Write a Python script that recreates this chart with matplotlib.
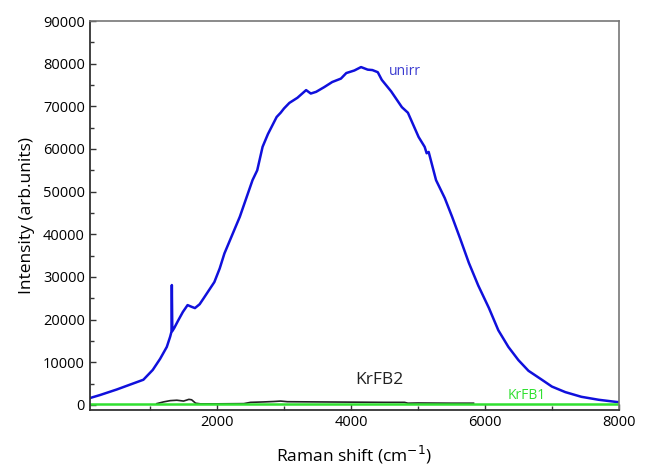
import matplotlib
matplotlib.use("Agg")
import matplotlib.pyplot as plt
from matplotlib.ticker import MultipleLocator

plt.rcParams['font.family'] = ['Open Sans', 'DejaVu Sans']

# unirr spectrum (blue)
unirr_x = [100, 250, 500, 900, 1040, 1150, 1250, 1300, 1320, 1325, 1332, 1360, 1420,
           1490, 1560, 1620, 1670, 1740, 1800, 1960, 2040, 2110, 2340, 2530, 2600,
           2680, 2760, 2890, 2950, 3000, 3080, 3200, 3330, 3400, 3480, 3600, 3720,
           3850, 3930, 4050, 4150, 4250, 4320, 4400, 4460, 4600, 4760, 4850, 5010,
           5100, 5130, 5160, 5270, 5400, 5510, 5630, 5760, 5900, 6060, 6200, 6350,
           6500, 6650, 6850, 7000, 7200, 7440, 7700, 7960, 8000]
unirr_y = [1600, 2300, 3600, 5900, 8200, 10800, 13600, 16000, 17200, 28100, 17300, 18000,
           19800, 21800, 23400, 23000, 22700, 23600, 25000, 28800, 32000, 35500, 44100,
           52700, 55000, 60500, 63500, 67500, 68500, 69500, 70800, 72000, 73800, 73000,
           73400, 74500, 75700, 76500, 77800, 78400, 79200, 78600, 78500, 78000, 76200,
           73500, 69800, 68500, 62800, 60500, 59000, 59300, 52700, 48500, 44100, 39000,
           33300, 28000, 22700, 17500, 13600, 10500, 8000, 5900, 4300, 3000, 1900, 1200,
           700, 650]

# KrFB2 (black)
krfb2_x = [1100, 1200, 1300, 1400, 1500, 1580, 1620, 1680, 1750, 2000, 2400, 2500, 2700,
           2850, 2950, 3050, 3500, 4000, 4500, 4800, 4850, 5000, 5500, 5830]
krfb2_y = [300, 700, 1000, 1100, 900, 1300, 1200, 400, 250, 250, 300, 600, 700, 800, 900,
           750, 700, 650, 600, 600, 400, 450, 400, 400]

# KrFB1 (green)
krfb1_x = [100, 2000, 4000, 6000, 8000]
krfb1_y = [200, 200, 200, 200, 200]

fig = plt.figure(figsize=(6.46, 4.67), dpi=100)
ax = fig.add_axes([0.139, 0.122, 0.819, 0.833])

ax.plot(unirr_x, unirr_y, color='#1010dc', lw=1.8)
ax.plot(krfb2_x, krfb2_y, color='#222222', lw=1.2)
ax.plot(krfb1_x, krfb1_y, color='#30e030', lw=1.8)

ax.text(4570, 78200, 'unirr', color='#3a3ad0', fontsize=10, va='center')
ax.text(4420, 5900, 'KrFB2', color='#222222', fontsize=12.5, ha='center', va='center')
ax.text(6620, 2300, 'KrFB1', color='#30e030', fontsize=10, ha='center', va='center')

ax.set_xlim(100, 8000)
ax.set_ylim(-1200, 90000)
ax.xaxis.set_major_locator(MultipleLocator(2000))
ax.xaxis.set_minor_locator(MultipleLocator(1000))
ax.yaxis.set_major_locator(MultipleLocator(10000))
ax.yaxis.set_minor_locator(MultipleLocator(5000))
ax.tick_params(which='both', direction='in', color='#333333', labelsize=10.5)
ax.tick_params(which='major', length=4, width=1)
ax.tick_params(which='minor', length=3, width=1)

for side in ['left', 'bottom']:
    ax.spines[side].set_color('#333333')
    ax.spines[side].set_linewidth(1.3)
for side in ['top', 'right']:
    ax.spines[side].set_color('#777777')
    ax.spines[side].set_linewidth(1.2)

ax.set_xlabel('Raman shift (cm$^{-1}$)', fontsize=12.5, labelpad=10)
ax.set_ylabel('Intensity (arb.units)', fontsize=12.5, labelpad=6)

fig.savefig('out.png', dpi=100)
